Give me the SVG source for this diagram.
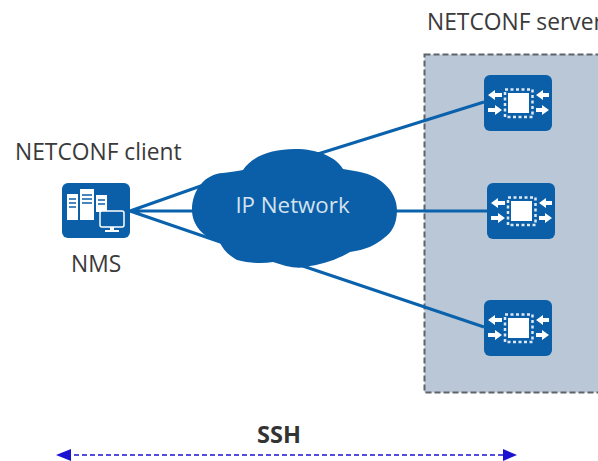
<svg xmlns="http://www.w3.org/2000/svg" width="598" height="461" viewBox="0 0 598 461">
<style>
.t{font-family:"Open Sans","Noto Sans",sans-serif;font-size:22.800px;fill:#3a3a3a}
.l{stroke:#0a62ad;stroke-width:3;fill:none}
.b{fill:#0a5fa8}
.w{fill:#fff}
.dot{fill:none;stroke:#dfe9f3;stroke-width:2.500;stroke-dasharray:3 2.500}
</style>
<defs>
<g id="sw">
<rect x="0" y="0" width="68" height="56" rx="6" class="b"/>
<rect x="24" y="18" width="21" height="20" class="w"/>
<rect x="21" y="14.500" width="27.500" height="27.500" class="dot"/>
<path class="w" d="M4 20L11 15V18H18V22H11V25Z"/>
<path class="w" d="M18 35L11 30V33H4V37H11V40Z"/>
<path class="w" d="M52 20L59 15V18H65V22H59V25Z"/>
<path class="w" d="M65 35L58 30V33H52V37H58V40Z"/>
</g>
</defs>
<g id="server-area"><rect x="424.500" y="54.500" width="190" height="338" fill="#bac7d6" stroke="#5f6468" stroke-width="2" stroke-dasharray="6 3"/></g>
<g id="connectors">
<path class="l" d="M130 211L215 181M130 211H215M130 211L235 247"/>
<path class="l" d="M305 158L484 102M380 211H488M285 260L484 327"/>
<path d="M66 455H507" fill="none" stroke="#1a12d0" stroke-width="1.500" stroke-dasharray="5 3"/>
<path d="M71 449V461L56 455Z M503 449V461L517 455Z" fill="#1a12d0"/>
</g>
<g id="nms">
<rect x="62" y="183" width="68" height="55" rx="6" class="b"/>
<path class="w" d="M67 194H78V220H67Z M80 189H94V220H80Z M96 195H107V212H96Z"/>
<path d="M69 199H76M69 203H76M69 207H76M82 195H92M82 199H92M82 203H92M98 200H105M98 204H105" stroke="#0a5fa8" stroke-width="1.500" fill="none"/>
<rect x="100" y="211" width="24" height="16" rx="2" fill="#0a5fa8" stroke="#fff" stroke-width="1.500"/>
<path class="w" d="M110 227H114V230H119V232H105V230H110Z"/>
</g>
<g id="cloud">
<path class="b" d="M192 210C192 190 205 174 223 173C231 172 238 171 243 170C252 156 272 149 295 149C318 149 336 157 343 169C349 170 355 171 360 172C381 176 397 192 397 210C397 225 391 233 384 238C376 245 365 250 350 252C340 258 325 264 310 266C298 270 285 266 273 262C262 264 248 263 237 260C228 255 223 249 220 243C203 237 192 225 192 210Z"/>
<text x="292.500" y="213" text-anchor="middle" style="font-family:'Open Sans','Noto Sans',sans-serif;font-size:22.300px;fill:#d5e2ef">IP Network</text>
</g>
<use id="sw1" href="#sw" x="484" y="75"/>
<use id="sw2" href="#sw" x="487" y="183"/>
<use id="sw3" href="#sw" x="484" y="300"/>
<text class="t" x="15" y="160">NETCONF client</text>
<text class="t" x="71" y="272">NMS</text>
<text class="t" x="427" y="30">NETCONF server</text>
<text x="279" y="443" text-anchor="middle" style="font-family:'Open Sans','Noto Sans',sans-serif;font-size:23.500px;font-weight:700;fill:#333">SSH</text>
</svg>
